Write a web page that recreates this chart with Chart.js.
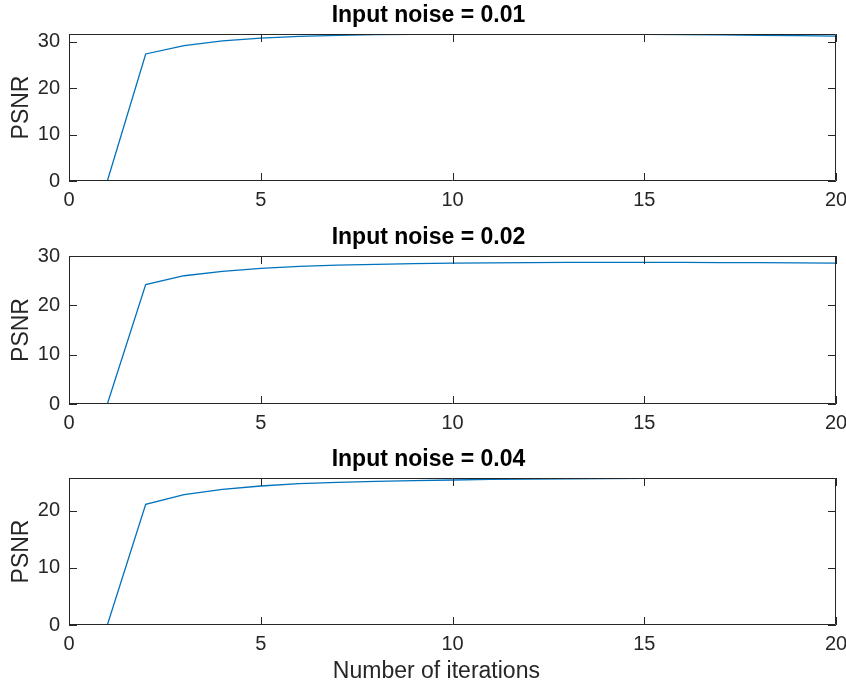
<!DOCTYPE html>
<html>
<head>
<meta charset="utf-8">
<script src="https://cdn.jsdelivr.net/npm/chart.js@4.4.1/dist/chart.umd.min.js"></script>
<style>
  html, body { margin: 0; padding: 0; background: #ffffff; }
  body { width: 846px; height: 687px; position: relative; overflow: hidden; }
  .plot { position: absolute; left: 0; width: 846px; }
  .plot canvas { display: block; }
</style>
</head>
<body>
<div class="plot" id="p1" style="top:0px;height:211px;"><canvas id="c1"></canvas></div>
<div class="plot" id="p2" style="top:222px;height:212px;"><canvas id="c2"></canvas></div>
<div class="plot" id="p3" style="top:444px;height:243px;"><canvas id="c3"></canvas></div>
<script>
// ---- data ----
const iterations = [1, 2, 3, 4, 5, 6, 7, 8, 9, 10, 11, 12, 13, 14, 15, 16, 17, 18, 19, 20];
const psnrNoise001 = [0, 27.4, 29.2, 30.2, 30.8, 31.2, 31.4, 31.55, 31.65, 31.7, 31.7, 31.7, 31.7, 31.65, 31.6, 31.55, 31.5, 31.4, 31.35, 31.25];
const psnrNoise002 = [0, 24.2, 26.0, 26.9, 27.5, 27.9, 28.15, 28.3, 28.45, 28.55, 28.6, 28.65, 28.7, 28.7, 28.7, 28.7, 28.65, 28.65, 28.6, 28.55];
const psnrNoise004 = [0, 21.1, 22.8, 23.7, 24.3, 24.7, 24.95, 25.1, 25.25, 25.35, 25.45, 25.5, 25.55, 25.6, 25.62, 25.65, 25.66, 25.68, 25.69, 25.7];
const titles = ['Input noise = 0.01', 'Input noise = 0.02', 'Input noise = 0.04'];
const xTicks = [0, 5, 10, 15, 20];
const yTicks1 = [0, 10, 20, 30];
const yTicks2 = [0, 10, 20, 30];
const yTicks3 = [0, 10, 20];
const yMax = [31.7, 30, 25.7];
const xLabel = 'Number of iterations';
const yLabel = 'PSNR';

const FONT = "'Liberation Sans', Arial, Helvetica, sans-serif";
const AXIS_COLOR = '#262626';
const LINE_COLOR = '#0072BD';

const boxTicksPlugin = {
  id: 'boxTicks',
  afterDatasetsDraw(chart) {
    const ctx = chart.ctx;
    const a = chart.chartArea;
    const xs = chart.scales.x, ys = chart.scales.y;
    const tl = 8;
    ctx.save();
    ctx.strokeStyle = AXIS_COLOR;
    ctx.lineWidth = 1;
    ctx.beginPath();
    ctx.rect(Math.round(a.left) + 0.5, Math.round(a.top) + 0.5,
             Math.round(a.right - a.left) - 1, Math.round(a.bottom - a.top) - 1);
    ctx.stroke();
    ctx.beginPath();
    xs.ticks.forEach(t => {
      const px = Math.round(xs.getPixelForValue(t.value)) + 0.5;
      ctx.moveTo(px, a.bottom); ctx.lineTo(px, a.bottom - tl);
      ctx.moveTo(px, a.top); ctx.lineTo(px, a.top + tl);
    });
    ys.ticks.forEach(t => {
      const py = Math.round(ys.getPixelForValue(t.value)) + 0.5;
      ctx.moveTo(a.left, py); ctx.lineTo(a.left + tl, py);
      ctx.moveTo(a.right, py); ctx.lineTo(a.right - tl, py);
    });
    ctx.stroke();
    ctx.restore();
  }
};

const xLabelPlugin = {
  id: 'xLabelText',
  afterDraw(chart, args, opts) {
    if (!opts || !opts.display) return;
    const ctx = chart.ctx;
    ctx.save();
    ctx.fillStyle = AXIS_COLOR;
    ctx.font = "23px " + FONT;
    ctx.textAlign = 'center';
    ctx.textBaseline = 'middle';
    const xs = chart.scales.x;
    ctx.fillText(opts.text, chart.chartArea.left + (chart.chartArea.right - chart.chartArea.left) * 0.479, xs.bottom - 15);
    ctx.restore();
  }
};

function makeChart(id, values, title, yTicks, ymax, showXLabel) {
  const pts = iterations.map((x, i) => ({ x: x, y: values[i] }));
  return new Chart(document.getElementById(id), {
    type: 'line',
    data: {
      datasets: [{
        data: pts,
        borderColor: LINE_COLOR,
        borderWidth: 1.3,
        pointRadius: 0,
        fill: false,
        tension: 0
      }]
    },
    options: {
      responsive: true,
      maintainAspectRatio: false,
      animation: false,
      events: [],
      layout: { padding: { left: 21, right: 10, top: 0, bottom: 0 } },
      plugins: {
        legend: { display: false },
        tooltip: { enabled: false },
        title: {
          display: true,
          text: title,
          color: '#000000',
          font: { family: FONT, size: 23, weight: 'bold' },
          padding: { top: 2.2, bottom: 4.2 }
        },
        xLabelText: { display: showXLabel, text: xLabel }
      },
      scales: {
        x: {
          type: 'linear',
          min: 0, max: 20,
          grid: { display: false, drawTicks: false },
          border: { display: false },
          afterBuildTicks: (s) => { s.ticks = xTicks.map(v => ({ value: v })); },
          afterFit: (s) => { s.height = showXLabel ? 62 : 30; s.paddingLeft = 0; s.paddingRight = 0; },
          ticks: {
            color: AXIS_COLOR,
            font: { family: FONT, size: 20 },
            padding: 7,
            maxRotation: 0,
            autoSkip: false
          }
        },
        y: {
          type: 'linear',
          min: 0, max: ymax,
          grid: { display: false, drawTicks: false },
          border: { display: false },
          afterBuildTicks: (s) => { s.ticks = yTicks.map(v => ({ value: v })); },
          afterFit: (s) => { s.width = 48; s.paddingTop = 0; s.paddingBottom = 0; },
          ticks: {
            color: AXIS_COLOR,
            font: { family: FONT, size: 20 },
            padding: 9,
            autoSkip: false
          },
          title: {
            display: true,
            text: yLabel,
            color: AXIS_COLOR,
            font: { family: FONT, size: 23 },
            padding: { top: -13.5, bottom: 0 }
          }
        }
      }
    },
    plugins: [boxTicksPlugin, xLabelPlugin]
  });
}

makeChart('c1', psnrNoise001, titles[0], yTicks1, yMax[0], false);
makeChart('c2', psnrNoise002, titles[1], yTicks2, yMax[1], false);
makeChart('c3', psnrNoise004, titles[2], yTicks3, yMax[2], true);
</script>
</body>
</html>
